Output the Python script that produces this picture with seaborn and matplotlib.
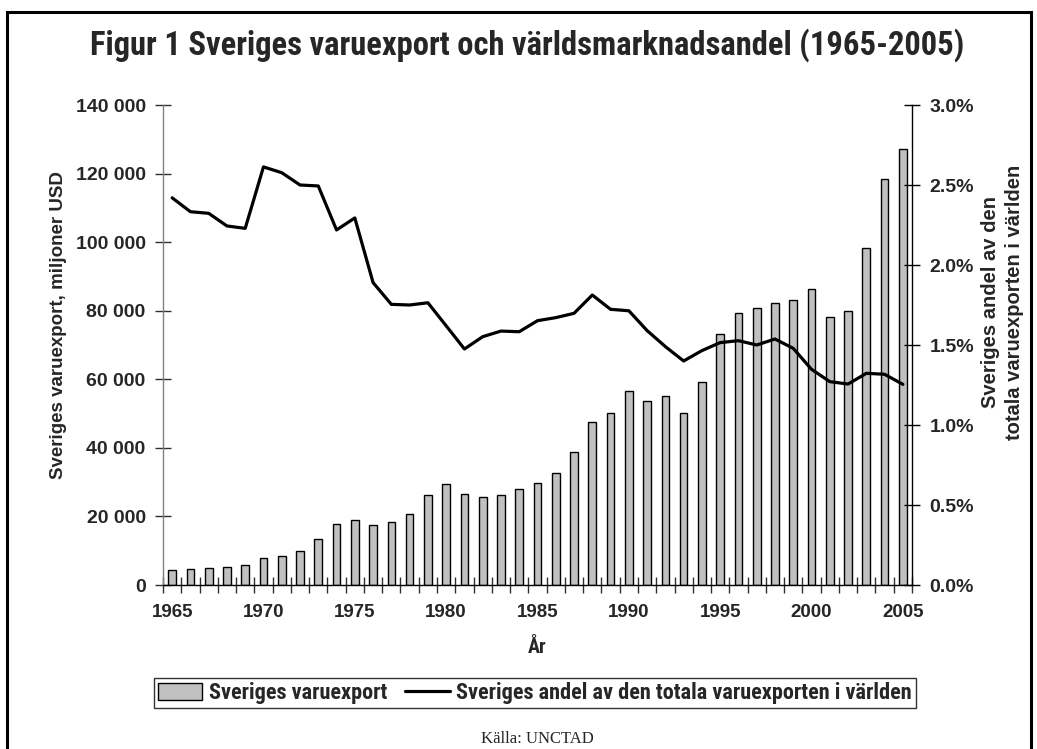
import numpy as np
import pandas as pd
import seaborn as sns
import matplotlib.pyplot as plt
from matplotlib import font_manager
from matplotlib.patches import Rectangle
from matplotlib.lines import Line2D
from matplotlib.ticker import FuncFormatter, FixedLocator

# data
years = list(range(1965, 2006))
export_musd = [4350, 4650, 4850, 5300, 5700, 7800, 8450, 9800, 13400, 17700,
               18950, 17400, 18300, 20700, 26200, 29450, 26600, 25750, 26150, 27900,
               29650, 32600, 38800, 47450, 50150, 56600, 53750, 55150, 50250, 59300,
               73250, 79450, 80900, 82150, 83250, 86450, 78250, 80000, 98300, 118350,
               127250]
share_pct = [2.42, 2.333, 2.323, 2.244, 2.229, 2.613, 2.577, 2.50, 2.494, 2.219,
             2.294, 1.89, 1.754, 1.75, 1.764, 1.62, 1.475, 1.552, 1.587, 1.583,
             1.652, 1.671, 1.698, 1.8125, 1.723, 1.714, 1.59, 1.49, 1.40, 1.465,
             1.515, 1.527, 1.50, 1.5375, 1.479, 1.348, 1.271, 1.256, 1.323, 1.317,
             1.254]
left_ticks = [0, 20000, 40000, 60000, 80000, 100000, 120000, 140000]
right_ticks = [0.0, 0.5, 1.0, 1.5, 2.0, 2.5, 3.0]
label_years = [1965, 1970, 1975, 1980, 1985, 1990, 1995, 2000, 2005]

sns.set_theme(style='white')
installed = {f.name for f in font_manager.fontManager.ttflist}
narrow = next((n for n in ['Liberation Sans Narrow', 'DejaVu Sans Condensed', 'Roboto Condensed']
               if n in installed), None)
plt.rcParams['font.family'] = ['Liberation Sans', 'DejaVu Sans']
narrow_fam = [narrow, 'DejaVu Sans'] if narrow else ['Liberation Sans', 'DejaVu Sans']
title_size = 23.5 if narrow else 18
leg_size = 16 if narrow else 12.5

W, H = 1037, 749
fig = plt.figure(figsize=(W / 100, H / 100), dpi=100)
ax = fig.add_axes([163 / W, 1 - 585 / H, (912 - 163) / W, (585 - 105) / H])

df = pd.DataFrame({'year': years, 'export': export_musd, 'share': share_pct})
sns.barplot(data=df, x='year', y='export', ax=ax, color='#c0c0c0', saturation=1,
            edgecolor='black', linewidth=1, width=0.42)

ax2 = ax.twinx()
sns.lineplot(x=np.arange(len(years)), y=df['share'], ax=ax2, color='black', lw=2.3)

ax.set_xlim(-0.5, len(years) - 0.5)
ax.set_ylim(0, 140000)
ax2.set_ylim(0, 3.0)

# x axis: tick marks between years, labels every fifth year
ax.xaxis.set_major_locator(FixedLocator([years.index(y) for y in label_years]))
ax.set_xticklabels([str(y) for y in label_years])
ax.xaxis.set_minor_locator(FixedLocator(np.arange(-0.5, len(years), 1.0)))
ax.tick_params(axis='x', which='major', length=0, pad=14, labelsize=13.5)
ax.tick_params(axis='x', which='minor', direction='inout', length=12, width=1,
               color='#303030', bottom=True)
for t in ax.get_xticklabels():
    t.set_fontweight('bold')
ax.set_xlabel('År', fontsize=14.5, fontweight='bold', family=narrow_fam, labelpad=12)

# left axis
ax.set_yticks(left_ticks)
ax.yaxis.set_major_formatter(FuncFormatter(lambda v, p: f'{int(v):,}'.replace(',', ' ')))
ax.tick_params(axis='y', direction='inout', length=11, width=1, color='#303030',
               pad=7, labelsize=14, left=True)
for t in ax.get_yticklabels():
    t.set_fontweight('bold')
ax.set_ylabel('Sveriges varuexport, miljoner USD', fontsize=13.5, fontweight='bold')
ax.yaxis.set_label_coords((67 - 163) / 749, (585 - 325) / 480)

# right axis
ax2.set_yticks(right_ticks)
ax2.yaxis.set_major_formatter(FuncFormatter(lambda v, p: f'{v:.1f}%'))
ax2.tick_params(axis='y', direction='inout', length=11, width=1, color='black',
                pad=7, labelsize=14, right=True)
for t in ax2.get_yticklabels():
    t.set_fontweight('bold')
ax2.set_ylabel('Sveriges andel av den\ntotala varuexporten i världen', fontsize=14.5,
               fontweight='bold', linespacing=1.35)
ax2.yaxis.set_label_coords((981 - 163) / 749, (585 - 302) / 480)

for s in ['top', 'right']:
    ax.spines[s].set_visible(False)
ax.spines['left'].set_color('#808080')
ax.spines['bottom'].set_color('black')
for s in ['top', 'left', 'bottom']:
    ax2.spines[s].set_visible(False)
ax2.spines['right'].set_color('black')
for sp in list(ax.spines.values()) + list(ax2.spines.values()):
    sp.set_linewidth(1)
ax.grid(False)
ax2.grid(False)

# legend
handles = [Rectangle((0, 0), 1, 1, facecolor='#c0c0c0', edgecolor='black', lw=1),
           Line2D([], [], color='black', lw=2.3)]
labels = ['Sveriges varuexport', 'Sveriges andel av den totala varuexporten i världen']
leg = fig.legend(handles, labels, loc='center', bbox_to_anchor=(535 / W, 1 - 693 / H),
                 ncol=2, frameon=True, fancybox=False, edgecolor='black',
                 prop={'family': narrow_fam, 'weight': 'bold', 'size': leg_size},
                 handlelength=2.0, handleheight=0.8, handletextpad=0.3,
                 columnspacing=0.8, borderpad=0.2)
leg.get_frame().set_linewidth(1)

fig.text(527 / W, 1 - 45 / H, 'Figur 1 Sveriges varuexport och världsmarknadsandel (1965-2005)',
         ha='center', va='center', fontsize=title_size, fontweight='bold', family=narrow_fam)
fig.text(537 / W, 1 - 739 / H, 'Källa: UNCTAD', ha='center', va='center', fontsize=12,
         family=['Liberation Serif', 'DejaVu Serif'])

# outer frame
fig.add_artist(Rectangle((7 / W, -0.05), (1031 - 7) / W, 1.05 - 12 / H,
                         transform=fig.transFigure, fill=False, lw=2.2, ec='black'))

fig.savefig('out.png', dpi=100)
